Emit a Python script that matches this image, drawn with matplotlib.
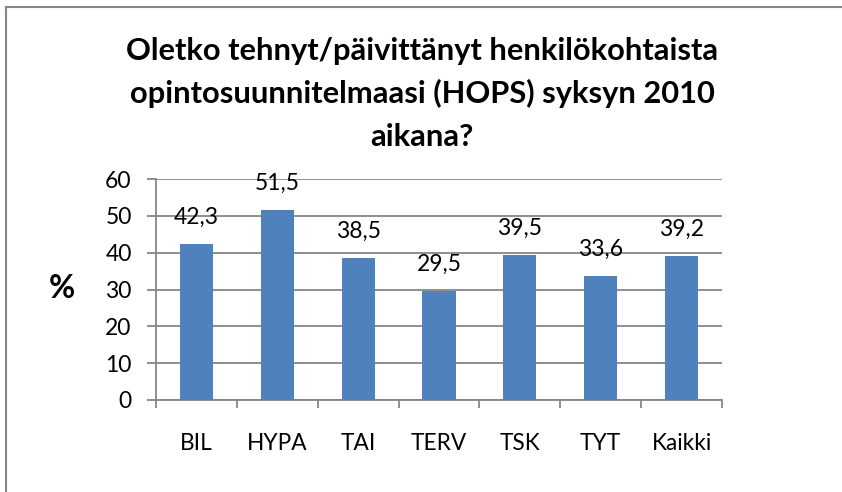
import matplotlib
matplotlib.use("Agg")
import matplotlib.pyplot as plt
from matplotlib.lines import Line2D

categories = ["BIL", "HYPA", "TAI", "TERV", "TSK", "TYT", "Kaikki"]
values = [42.3, 51.5, 38.5, 29.5, 39.5, 33.6, 39.2]
value_labels = ["42,3", "51,5", "38,5", "29,5", "39,5", "33,6", "39,2"]
yticks = [0, 10, 20, 30, 40, 50, 60]
title_lines = ["Oletko tehnyt/päivittänyt henkilökohtaista",
               "opintosuunnitelmaasi (HOPS) syksyn 2010",
               "aikana?"]

FONT = "Lato"
GRAY = "#868686"
BLUE = "#4F81BD"

plt.rcParams["font.family"] = [FONT, "DejaVu Sans"]

W, H = 842, 492
fig = plt.figure(figsize=(W / 100, H / 100), dpi=100)
renderer = fig.canvas.get_renderer()


def fit_size(text, target_px, weight="normal", base=14.0):
    t = fig.text(0, 0, text, fontsize=base, fontweight=weight)
    w = t.get_window_extent(renderer).width
    t.remove()
    return base * target_px / w


title_fs = fit_size(title_lines[0], 598, "bold")
cat_fs = fit_size("TERV", 56)
tick_fs = 16.5
lab_fs = 16.5

ax = fig.add_axes([156 / W, 1 - 400 / H, (722 - 156) / W, (400 - 179) / H])

x = list(range(len(categories)))
ax.bar(x, values, width=0.41, color=BLUE, zorder=3)
ax.set_xlim(-0.5, len(categories) - 0.5)
ax.set_ylim(0, 60)
ax.set_yticks(yticks)
ax.set_yticklabels([str(t) for t in yticks])
ax.grid(axis="y", color=GRAY, linewidth=1.3, zorder=0)
ax.set_axisbelow(True)

for s in ["top", "right"]:
    ax.spines[s].set_visible(False)
for s in ["left", "bottom"]:
    ax.spines[s].set_color(GRAY)
    ax.spines[s].set_linewidth(1.3)

ax.tick_params(axis="y", length=6.5, width=1.3, color=GRAY, pad=11, labelsize=tick_fs)
ax.set_xticks(x)
ax.set_xticklabels(categories)
ax.tick_params(axis="x", which="major", length=0, pad=24, labelsize=cat_fs)
ax.set_xticks([i - 0.5 for i in range(len(categories) + 1)], minor=True)
ax.tick_params(axis="x", which="minor", length=6, width=1.3, color=GRAY)

for xi, v, lab in zip(x, values, value_labels):
    ax.annotate(lab, (xi, v), xytext=(0, 14.5), textcoords="offset points",
                ha="center", va="baseline", fontsize=lab_fs)

fig.text(62 / W, 1 - 289 / H, "%", fontsize=23, fontweight="bold",
         ha="center", va="center")

baselines = [60, 103, 146]
for line, b in zip(title_lines, baselines):
    fig.text(0.5 + 1 / W, 1 - b / H, line, fontsize=title_fs, fontweight="bold",
             ha="center", va="baseline")

# chart-area border (only top and left edges visible)
fig.add_artist(Line2D([6 / W, 1], [1 - 7 / H, 1 - 7 / H], color=GRAY, linewidth=1.5,
                      transform=fig.transFigure))
fig.add_artist(Line2D([6 / W, 6 / W], [0, 1 - 7 / H], color=GRAY, linewidth=1.5,
                      transform=fig.transFigure))

fig.savefig("out.png", dpi=100)
